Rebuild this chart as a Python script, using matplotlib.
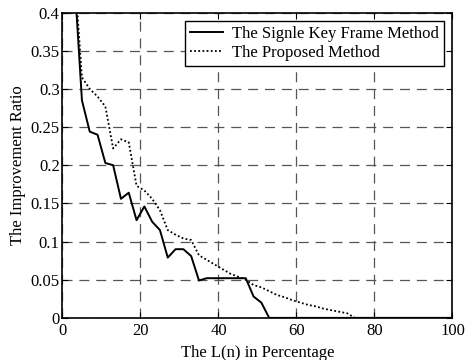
import numpy as np
import matplotlib.pyplot as plt

plt.rcParams['font.family'] = ['Liberation Serif', 'DejaVu Serif']
plt.rcParams['font.size'] = 12

# L(n) in percentage (odd steps)
x = [1, 3, 5, 7, 9, 11, 13, 15, 17, 19, 21, 23, 25, 27, 29, 31, 33, 35,
     37, 39, 41, 43, 45, 47, 49, 51, 53, 55, 57, 59, 61, 63, 65, 67, 69,
     71, 73, 75, 77, 100]

single = [0.80, 0.45, 0.285, 0.244, 0.240, 0.203, 0.200, 0.156, 0.164, 0.128,
          0.146, 0.126, 0.115, 0.079, 0.090, 0.090, 0.081, 0.049,
          0.052, 0.052, 0.052, 0.052, 0.052, 0.052, 0.028, 0.020, 0.0, 0.0,
          0.0, 0.0, 0.0, 0.0, 0.0, 0.0, 0.0, 0.0, 0.0, 0.0, 0.0, 0.0]

proposed = [0.80, 0.46, 0.315, 0.300, 0.290, 0.277, 0.222, 0.234, 0.230, 0.173,
            0.167, 0.156, 0.141, 0.115, 0.109, 0.104, 0.102, 0.082,
            0.076, 0.070, 0.064, 0.058, 0.054, 0.050, 0.043, 0.040, 0.035, 0.030,
            0.027, 0.023, 0.020, 0.017, 0.015, 0.012, 0.010, 0.008, 0.006, 0.0,
            0.0, 0.0]

fig = plt.figure(figsize=(4.66, 3.6), dpi=100)
ax = fig.add_axes([0.134, 0.117, 0.837, 0.848])

ax.plot(x, single, 'k-', lw=1.4, label='The Signle Key Frame Method')
ax.plot(x, proposed, color='k', linestyle=(0, (1, 1.3)), lw=1.3, label='The Proposed Method')

ax.set_xlim(0, 100)
ax.set_ylim(0, 0.4)
ax.set_xticks([0, 20, 40, 60, 80, 100])
ax.set_yticks([0, 0.05, 0.1, 0.15, 0.2, 0.25, 0.3, 0.35, 0.4])
ax.set_yticklabels(['0', '0.05', '0.1', '0.15', '0.2', '0.25', '0.3', '0.35', '0.4'])
ax.grid(True, color='#555555', linestyle=(0, (8, 5.5)), lw=0.9)
ax.tick_params(direction='in', top=True, right=True, length=4)
ax.tick_params(axis='x', pad=4)
ax.tick_params(axis='y', pad=2)
for s in ax.spines.values():
    s.set_linewidth(1.2)

ax.set_xlabel('The L(n) in Percentage', labelpad=4)
ax.set_ylabel('The Improvement Ratio', labelpad=3)

leg = ax.legend(loc='upper right', fancybox=False, framealpha=1, edgecolor='k',
                handlelength=2.0, handletextpad=0.55, borderaxespad=0.5,
                borderpad=0.3, labelspacing=0.2)
leg.get_frame().set_linewidth(1.0)

plt.savefig('out.png', dpi=100)
